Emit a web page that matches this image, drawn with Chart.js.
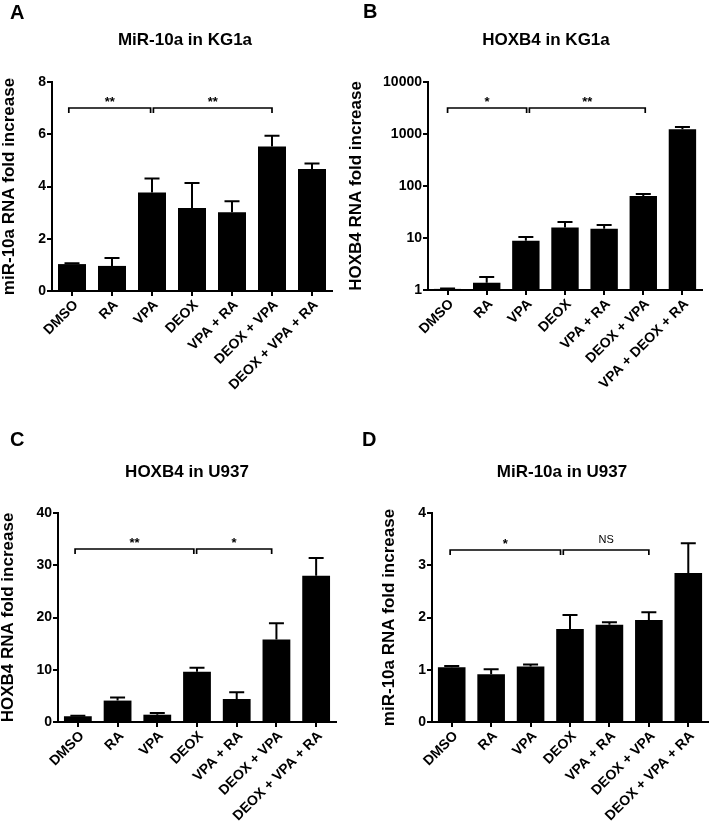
<!DOCTYPE html>
<html><head><meta charset="utf-8">
<script src="https://cdn.jsdelivr.net/npm/chart.js@4/dist/chart.umd.min.js"></script>
<style>
body{margin:0;background:#fff;width:709px;height:821px;overflow:hidden;position:relative;}
canvas{position:absolute;}
</style>
</head><body>
<canvas id="cA"></canvas><canvas id="cB"></canvas><canvas id="cC"></canvas><canvas id="cD"></canvas>
<script>
// ---------- data ----------
const categoriesA = ['DMSO','RA','VPA','DEOX','VPA + RA','DEOX + VPA','DEOX + VPA + RA'];
const categoriesB = ['DMSO','RA','VPA','DEOX','VPA + RA','DEOX + VPA','VPA + DEOX + RA'];
const categoriesC = ['DMSO','RA','VPA','DEOX','VPA + RA','DEOX + VPA','DEOX + VPA + RA'];
const categoriesD = ['DMSO','RA','VPA','DEOX','VPA + RA','DEOX + VPA','DEOX + VPA + RA'];

const valuesA = [1.03, 0.96, 3.77, 3.18, 3.01, 5.53, 4.67];
const errTopA = [1.06, 1.26, 4.31, 4.13, 3.44, 5.94, 4.88];
const valuesB = [1.05, 1.38, 8.9, 16, 15.1, 64, 1240];
const errTopB = [1.07, 1.78, 10.4, 20.3, 17.8, 70, 1360];
const valuesC = [1.1, 4.1, 1.4, 9.6, 4.4, 15.8, 28.0];
const errTopC = [1.2, 4.7, 1.7, 10.4, 5.7, 18.9, 31.4];
const valuesD = [1.05, 0.915, 1.06, 1.78, 1.86, 1.95, 2.85];
const errTopD = [1.07, 1.01, 1.10, 2.05, 1.91, 2.10, 3.42];

const ticksA = [0, 2, 4, 6, 8];
const ticksB = [1, 10, 100, 1000, 10000];
const ticksC = [0, 10, 20, 30, 40];
const ticksD = [0, 1, 2, 3, 4];

const bracketsA = [{from:-0.08, to:1.965, at:7.0, text:'**'}, {from:2.035, to:5.0, at:7.0, text:'**'}];
const bracketsB = [{from:0.0, to:2.02, at:3100, text:'*'}, {from:2.09, to:5.05, at:3100, text:'**'}];
const bracketsC = [{from:-0.07, to:2.92, at:33.1, text:'**'}, {from:2.99, to:4.88, at:33.1, text:'*'}];
const bracketsD = [{from:-0.04, to:2.76, at:3.3, text:'*'}, {from:2.83, to:5.0, at:3.3, text:'NS'}];

// ---------- drawing ----------
const FONT = 'Liberation Sans, Arial, Helvetica, sans-serif';

const extrasPlugin = {
  id: 'extras',
  afterDatasetsDraw(chart, args, opts) {
    const ctx = chart.ctx;
    const meta = chart.getDatasetMeta(0);
    const ys = chart.scales.y, xs = chart.scales.x;
    ctx.save();
    ctx.strokeStyle = '#000';
    ctx.lineWidth = 2;
    // error bars (upper only)
    opts.errTop.forEach((v, i) => {
      const bar = meta.data[i];
      const yt = ys.getPixelForValue(v);
      ctx.beginPath();
      ctx.moveTo(bar.x, bar.y);
      ctx.lineTo(bar.x, yt);
      ctx.moveTo(bar.x - 7.5, yt);
      ctx.lineTo(bar.x + 7.5, yt);
      ctx.stroke();
    });
    // significance brackets
    ctx.lineWidth = 1.7;
    opts.brackets.forEach(b => {
      const x1 = xs.getPixelForValue(b.from), x2 = xs.getPixelForValue(b.to);
      const y = Math.round(ys.getPixelForValue(b.at));
      ctx.beginPath();
      ctx.moveTo(x1, y + 5);
      ctx.lineTo(x1, y);
      ctx.lineTo(x2, y);
      ctx.lineTo(x2, y + 5);
      ctx.stroke();
      ctx.fillStyle = '#000';
      ctx.textAlign = 'center';
      ctx.textBaseline = 'alphabetic';
      if (b.text === 'NS') {
        ctx.font = '11px ' + FONT;
        ctx.fillText(b.text, (x1 + x2) / 2, y - 7);
      } else {
        ctx.font = 'bold 13px ' + FONT;
        ctx.fillText(b.text, (x1 + x2) / 2, y - 2);
      }
    });
    ctx.restore();
  },
  afterDraw(chart, args, opts) {
    const ctx = chart.ctx;
    ctx.save();
    ctx.fillStyle = '#000';
    ctx.textBaseline = 'alphabetic';
    ctx.textAlign = 'left';
    ctx.font = 'bold 20px ' + FONT;
    ctx.fillText(opts.letter, opts.letterPos[0], opts.letterPos[1]);
    ctx.textAlign = 'center';
    ctx.font = 'bold 17px ' + FONT;
    ctx.fillText(opts.title, opts.titlePos[0], opts.titlePos[1]);
    ctx.restore();
  }
};

function makePanel(p) {
  const cv = document.getElementById(p.id);
  cv.width = p.w; cv.height = p.h;
  cv.style.left = p.left + 'px'; cv.style.top = p.top + 'px';
  cv.style.width = p.w + 'px'; cv.style.height = p.h + 'px';
  const yScale = {
    type: p.type, min: p.min, max: p.max,
    afterBuildTicks: s => { s.ticks = p.ticks.map(v => ({value: v})); },
    afterFit: s => { s.width = p.area.l; },
    border: {display: true, color: '#000', width: 2},
    grid: {display: true, drawOnChartArea: false, drawTicks: true, tickLength: 5, color: '#000', lineWidth: 2},
    ticks: {color: '#000', padding: 1, font: {family: FONT, size: 14, weight: 'bold'},
            callback: v => String(v)},
    title: {display: true, text: p.yTitle, color: '#000', padding: {top: p.yTitlePad, bottom: 0},
            font: {family: FONT, size: 17, weight: 'bold', lineHeight: 1}}
  };
  new Chart(cv, {
    type: 'bar',
    data: {labels: p.labels, datasets: [{data: p.values, backgroundColor: '#000', borderWidth: 0,
           barPercentage: 0.7, categoryPercentage: 1.0}]},
    options: {
      responsive: false, animation: false, devicePixelRatio: 1,
      layout: {padding: {left: 0, top: p.area.t, right: p.w - p.area.r, bottom: 0}},
      plugins: {legend: {display: false}, tooltip: {enabled: false},
        extras: {errTop: p.errTop, brackets: p.brackets, letter: p.letter, letterPos: p.letterPos,
                 title: p.title, titlePos: p.titlePos}},
      scales: {
        x: {
          afterFit: s => { s.height = p.h - p.area.b; },
          border: {display: true, color: '#000', width: 2},
          grid: {display: true, offset: false, drawOnChartArea: false, drawTicks: true, tickLength: 5, color: '#000', lineWidth: 2},
          ticks: {color: '#000', autoSkip: false, minRotation: 45, maxRotation: 45, padding: 1, labelOffset: 4,
                  font: {family: FONT, size: 14, weight: 'bold'}}
        },
        y: yScale
      }
    },
    plugins: [extrasPlugin]
  });
}

makePanel({id:'cA', left:0, top:0, w:348, h:410, area:{l:52, r:332, t:82, b:291},
  labels: categoriesA, values: valuesA, errTop: errTopA, brackets: bracketsA, ticks: ticksA,
  type:'linear', min:0, max:8, letter:'A', letterPos:[10,19], title:'MiR-10a in KG1a', titlePos:[185,45],
  yTitle:'miR-10a RNA fold increase', yTitlePad:0.5});
makePanel({id:'cB', left:348, top:0, w:361, h:410, area:{l:80, r:354, t:82, b:290},
  labels: categoriesB, values: valuesB, errTop: errTopB, brackets: bracketsB, ticks: ticksB,
  type:'logarithmic', min:1, max:10000, letter:'B', letterPos:[15,18], title:'HOXB4 in KG1a', titlePos:[198,45],
  yTitle:'HOXB4 RNA fold increase', yTitlePad:0});
makePanel({id:'cC', left:0, top:410, w:348, h:411, area:{l:58, r:336, t:103, b:312},
  labels: categoriesC, values: valuesC, errTop: errTopC, brackets: bracketsC, ticks: ticksC,
  type:'linear', min:0, max:40, letter:'C', letterPos:[10,36], title:'HOXB4 in U937', titlePos:[187,67],
  yTitle:'HOXB4 RNA fold increase', yTitlePad:0});
makePanel({id:'cD', left:348, top:410, w:361, h:411, area:{l:84, r:360, t:103, b:312},
  labels: categoriesD, values: valuesD, errTop: errTopD, brackets: bracketsD, ticks: ticksD,
  type:'linear', min:0, max:4, letter:'D', letterPos:[14,36], title:'MiR-10a in U937', titlePos:[214,67],
  yTitle:'miR-10a RNA fold increase', yTitlePad:32.5});
</script>
</body></html>
